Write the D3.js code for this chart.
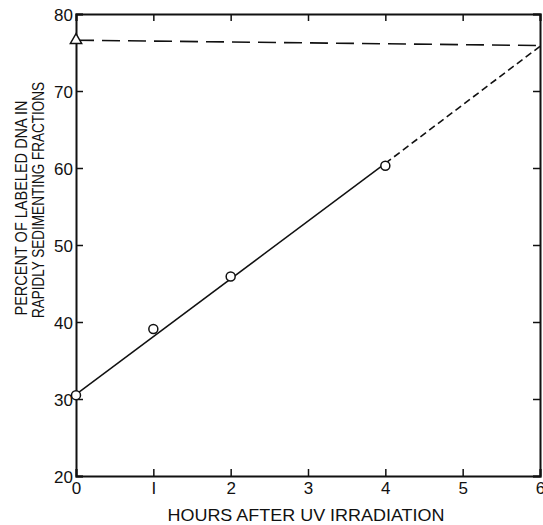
<html>
<head>
<script src="https://d3js.org/d3.v7.min.js"></script>
<style>
body { margin: 0; background: #fff; }
text { font-family: "Liberation Sans", Arial, sans-serif; fill: #111; }
</style>
</head>
<body>
<svg width="543" height="525"></svg>
<script>
// data
var hours = [0, 1, 2, 4];
var percent = [30.5, 39.1, 45.9, 60.3];
var fitLine = [[0, 30.6], [4, 60.6]];
var fitExtension = [[4, 60.6], [6, 75.8]];
var triangle = [[0, 76.6]];
var plateau = [[0, 76.6], [6, 75.9]];
var xTicks = [0, 1, 2, 3, 4, 5, 6];
var yTicks = [20, 30, 40, 50, 60, 70, 80];
var xTickLabels = ["0", "I", "2", "3", "4", "5", "6"];

var svg = d3.select("svg");
var xs = d3.scaleLinear().domain([0, 6]).range([76, 540]);
var ys = d3.scaleLinear().domain([20, 80]).range([476, 14]);

// axes, ticks pointing inward
var gx = svg.append("g").attr("transform", "translate(0," + ys(20) + ")")
  .call(d3.axisBottom(xs).tickValues(xTicks).tickSize(-7).tickPadding(6)
    .tickFormat(function(d, i) { return xTickLabels[i]; }));
var gxTop = svg.append("g").attr("transform", "translate(0," + ys(80) + ")")
  .call(d3.axisTop(xs).tickValues(xTicks).tickSize(-7).tickFormat(""));
var gy = svg.append("g").attr("transform", "translate(" + xs(0) + ",0)")
  .call(d3.axisLeft(ys).tickValues(yTicks).tickSize(-7).tickPadding(3));
var gyRight = svg.append("g").attr("transform", "translate(" + xs(6) + ",0)")
  .call(d3.axisRight(ys).tickValues(yTicks).tickSize(-7).tickFormat(""));

[gx, gxTop, gy, gyRight].forEach(function(g) {
  g.select(".domain").attr("stroke", "#111").attr("stroke-width", 2);
  g.selectAll(".tick line").attr("stroke", "#111").attr("stroke-width", 1.5);
});
gx.selectAll(".tick text").style("font-size", "17px").attr("fill", "#111");
gy.selectAll(".tick text").style("font-size", "17px").attr("fill", "#111").attr("dy", "0.36em");

var line = d3.line().x(function(d) { return xs(d[0]); }).y(function(d) { return ys(d[1]); });

svg.append("path").attr("d", line(plateau))
  .attr("fill", "none").attr("stroke", "#111").attr("stroke-width", 1.6)
  .attr("stroke-dasharray", "18,8");

svg.append("path").attr("d", line(fitLine))
  .attr("fill", "none").attr("stroke", "#111").attr("stroke-width", 1.5);

svg.append("path").attr("d", line(fitExtension))
  .attr("fill", "none").attr("stroke", "#111").attr("stroke-width", 1.6)
  .attr("stroke-dasharray", "7,4");

svg.append("g").selectAll("circle").data(hours).enter().append("circle")
  .attr("cx", function(d) { return xs(d); })
  .attr("cy", function(d, i) { return ys(percent[i]); })
  .attr("r", 4.5)
  .attr("fill", "#fff").attr("stroke", "#111").attr("stroke-width", 1.5);

svg.append("g").selectAll("path").data(triangle).enter().append("path")
  .attr("d", d3.symbol().type(d3.symbolTriangle).size(55))
  .attr("transform", function(d) { return "translate(" + xs(d[0]) + "," + ys(d[1]) + ")"; })
  .attr("fill", "#fff").attr("stroke", "#111").attr("stroke-width", 1.5);

// axis titles
svg.append("text")
  .attr("x", 306).attr("y", 521)
  .style("text-anchor", "middle").style("font-size", "17px")
  .attr("textLength", 277).attr("lengthAdjust", "spacingAndGlyphs")
  .text("HOURS AFTER UV IRRADIATION");

svg.append("text")
  .attr("transform", "translate(27,208) rotate(-90)")
  .style("text-anchor", "middle").style("font-size", "17px")
  .attr("textLength", 215).attr("lengthAdjust", "spacingAndGlyphs")
  .text("PERCENT OF LABELED DNA IN");

svg.append("text")
  .attr("transform", "translate(44,200) rotate(-90)")
  .style("text-anchor", "middle").style("font-size", "17px")
  .attr("textLength", 236).attr("lengthAdjust", "spacingAndGlyphs")
  .text("RAPIDLY SEDIMENTING FRACTIONS");
</script>
</body>
</html>
